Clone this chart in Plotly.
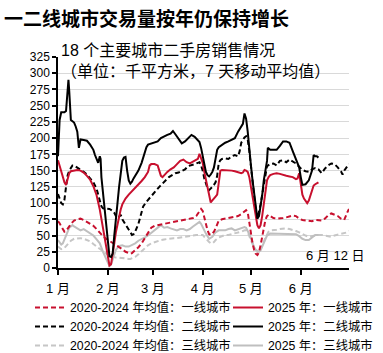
import pandas as pd
import plotly.graph_objects as go

# ---------------- data (day offset from 2025-01-01, value in 千平方米) ----------------
tier1_avg_days = [0,1,2,3,4,5,6,7,8,9,10,12,14,16,18,20,22,24,26,28,30,32,34,36,38,40,42,44,45,46,
                  48,50,52,54,56,58,60,62,64,66,68,70,72,74,76,78,80,82,84,86,88,
                  89,90,91,92,93,94,95,96,97,98,99,100,102,104,106,108,110,112,114,116,
                  117,118,119,120,121,122,123,124,125,126,127,128,129,130,131,132,
                  134,136,138,140,142,144,146,148,150,152,154,156,158,160,162,164,166,168,170,172,174,176,178,180,181]
tier1_avg_vals = [72,69,64,60,56,57,60,64,68,71,73,75,76,74,71,68,65,60,54,49,45,42,39,36,33,29,25,23,22,23,
                  27,32,38,46,55,62,65,66,67,69,70,71,72,73,74,75,76,76,77,80,87,
                  91,88,78,67,58,52,51,53,56,61,68,73,75,76,76,77,78,80,83,87,
                  89,86,70,52,38,28,22,20,24,35,50,65,74,80,82,80,
                  77,76,76,77,78,79,81,80,76,74,73,72,72,74,74,73,76,81,84,82,80,76,74,86,91]

tier2_avg_days = [0,1,2,3,4,5,6,7,8,9,10,12,14,16,18,20,22,24,25,26,27,28,30,32,34,35,36,37,38,39,40,42,44,
                  45,46,47,48,50,52,53,55,57,59,61,63,65,67,69,71,73,75,77,79,81,83,85,87,
                  88,89,90,91,92,93,94,95,96,97,98,99,100,101,102,104,106,108,110,112,113,114,115,116,
                  117,118,119,120,121,122,123,124,125,126,127,128,129,130,132,134,
                  136,138,140,142,144,146,148,150,152,154,156,158,160,162,164,166,168,170,172,174,176,177,178,180,181]
tier2_avg_vals = [114,106,100,98,105,125,143,150,155,158,158,155,152,148,144,138,132,122,112,102,95,92,91,91,88,85,80,77,79,82,75,67,58,
                  53,51,52,56,68,85,95,102,108,114,120,125,130,135,140,143,146,147,149,152,157,158,160,162,
                  163,158,150,138,130,123,120,122,125,128,132,142,162,166,168,169,168,172,174,172,180,193,198,201,
                  203,198,180,158,130,105,88,78,86,98,112,128,145,157,160,161,
                  158,165,166,163,167,164,161,156,151,149,148,152,154,152,146,153,158,161,160,155,149,144,150,157,160]

tier3_avg_days = [0,2,4,6,8,10,12,14,16,18,20,22,24,26,28,30,32,34,36,38,40,42,44,45,46,
                  48,50,52,54,56,58,60,62,64,66,68,70,72,74,76,78,80,82,84,86,88,90,
                  91,92,93,94,95,96,97,98,100,102,104,106,108,110,112,114,116,
                  117,118,119,120,121,122,123,124,125,126,127,128,129,130,131,
                  132,134,136,138,140,142,144,146,148,150,152,154,156,158,160,162,164,166,168,170,172,174,176,178,180,181]
tier3_avg_vals = [33,29,31,36,42,45,46,46,45,43,41,37,33,29,25,22,19,17,16,16,15,14,14,14,15,
                  17,21,26,31,35,38,40,41,43,44,45,45,46,46,47,48,49,50,51,51,51,51,
                  48,45,42,40,38,38,40,43,47,49,51,51,52,53,55,56,58,
                  58,55,50,43,37,31,27,25,26,29,34,40,47,53,56,
                  58,58,59,60,61,61,60,59,57,55,52,50,48,49,51,51,51,50,49,48,50,51,52,53,55,57]

tier1_2025_days = [0,1,2,3,4,5,6,7,8,10,12,14,16,18,20,22,24,26,27,28,29,30,31,32,33,34,35,36,37,38,39,40,
                   42,44,46,48,50,52,54,56,57,58,60,62,63,64,65,66,68,70,72,74,76,78,80,82,84,86,
                   87,88,89,90,91,92,93,94,95,96,97,98,99,100,101,102,
                   104,106,108,110,112,114,115,116,117,118,119,120,121,122,123,124,125,126,127,128,129,130,131,132,
                   134,136,138,140,142,144,146,148,149,150,151,152,153,154,155,156,157,158,159,160,161,162]
tier1_2025_vals = [166,158,150,143,132,128,136,146,149,150,151,150,147,142,136,126,112,90,76,62,47,30,15,4,6,20,38,55,68,80,90,98,
                   107,113,118,124,129,134,140,148,158,160,160,158,150,142,140,143,148,152,155,160,165,167,163,161,164,166,
                   168,176,170,162,148,135,122,110,101,104,108,110,113,135,150,151,
                   151,150,150,149,148,146,147,151,150,148,140,125,108,92,78,66,61,66,80,100,118,135,140,143,
                   145,146,145,143,142,141,140,137,138,146,130,113,107,103,100,104,112,122,127,129,131,132]

tier2_2025_days = [0,1,2,3,4,5,6,6.5,7,7.5,8,9,10,11,12,13,13.5,14,16,18,20,21,22,23,24,25,26,26.5,27,28,
                   29,30,31,32,33,34,35,36,37,38,39,40,41,42,43,44,45,46,47,48,50,52,54,55,56,58,60,62,64,66,
                   68,70,71.5,73,75,77,79,81,83,85,87,88,89,90,91,92,93,94,95,96,
                   97,98,99,100,102,104,106,108,110,112,114,115,116,117,118,119,120,121,122,123,
                   124,125,126,127,128,129,130,130.5,132,134,136,138,140,142,144,146,148,150,151,152,
                   154,156,158,159,160,161,162]
tier2_2025_vals = [172,228,240,240,240,242,275,290,272,250,228,226,224,218,210,185,190,198,197,196,190,186,182,174,168,162,172,168,140,115,
                   88,62,38,18,17,22,50,80,100,125,148,165,170,171,150,135,130,133,138,142,150,162,178,186,190,192,193,195,200,203,
                   205,207,211,206,198,192,195,200,205,202,196,194,185,172,160,148,143,141,144,148,
                   155,168,182,186,190,193,195,198,200,210,218,222,238,230,210,180,158,135,112,90,
                   76,80,95,112,135,150,165,185,182,182,182,188,195,195,193,180,168,155,140,128,
                   129,135,150,174,172,172,170]

tier3_2025_days = [0,1,2,3,4,5,6,7,8,9,10,12,14,16,18,20,22,24,26,28,30,31,32,33,34,35,36,37,38,
                   40,42,44,46,48,50,52,54,56,58,60,62,64,66,68,70,72,74,76,78,80,82,84,86,88,89,90,
                   92,94,95,96,98,100,102,104,106,108,110,112,114,116,
                   117,118,119,120,121,122,123,124,125,126,127,128,129,130,
                   132,134,136,138,140,142,144,146,148,150,152,154,156,158,160,162]
tier3_2025_vals = [43,39,36,38,44,52,58,62,64,66,64,61,58,60,57,53,50,44,38,25,14,8,3,5,14,22,28,31,34,
                   35,33,33,35,38,42,44,47,50,54,57,62,66,62,63,61,59,58,60,60,58,60,64,68,71,68,62,
                   53,45,46,48,55,58,58,58,60,61,58,60,61,63,
                   62,58,52,46,38,32,28,26,25,27,33,40,45,50,
                   53,53,53,53,53,53,53,53,52,49,45,43,43,47,51,51]

month_ticks = ["2025-01-01", "2025-02-01", "2025-03-01", "2025-04-01", "2025-05-01", "2025-06-01"]
month_labels = ["1 月", "2 月", "3 月", "4 月", "5 月", "6 月"]
y_ticks = [0, 25, 50, 75, 100, 125, 150, 175, 200, 225, 250, 275, 300, 325]

# ---------------- build ----------------
BASE = pd.Timestamp("2025-01-01")


def to_dates(days):
    return [BASE + pd.Timedelta(days=d) for d in days]


RED = "#C8102E"
BLACK = "#000000"
GRAY = "#BFBFBF"
GRAY_D = "#C6C6C6"
FONT = "Liberation Sans, Arial, Noto Sans CJK SC, sans-serif"

series = [
    # name, days, vals, colour, dash, legend, rank
    ("2020-2024 年均值：三线城市", tier3_avg_days, tier3_avg_vals, GRAY_D, "5px,3px", "legend", 3),
    ("2025 年：三线城市", tier3_2025_days, tier3_2025_vals, GRAY, "solid", "legend2", 3),
    ("2020-2024 年均值：一线城市", tier1_avg_days, tier1_avg_vals, RED, "5px,3px", "legend", 1),
    ("2020-2024 年均值：二线城市", tier2_avg_days, tier2_avg_vals, BLACK, "5px,3px", "legend", 2),
    ("2025 年：一线城市", tier1_2025_days, tier1_2025_vals, RED, "solid", "legend2", 1),
    ("2025 年：二线城市", tier2_2025_days, tier2_2025_vals, BLACK, "solid", "legend2", 2),
]

fig = go.Figure()
for name, d, v, col, dash, lg, rank in series:
    assert len(d) == len(v), (name, len(d), len(v))
    fig.add_trace(go.Scatter(
        x=to_dates(d), y=v, mode="lines", name=name,
        line=dict(color=col, width=2, dash=dash),
        legend=lg, legendrank=rank, hoverinfo="skip",
    ))

W, H = 383, 353
ML, MR, MT, MB = 58, 34, 57, 85
PW, PH = W - ML - MR, H - MT - MB


def px_x(x):
    return (x - ML) / PW


def px_y(y):
    return (H - MB - y) / PH


LEG_TOP = 293

fig.update_layout(
    width=W, height=H,
    margin=dict(l=ML, r=MR, t=MT, b=MB, autoexpand=False),
    paper_bgcolor="white", plot_bgcolor="white",
    font=dict(family=FONT, size=12, color="black"),
    title=dict(text="一二线城市交易量按年仍保持增长", xref="container", yref="container",
               x=4 / W, xanchor="left", y=1 - 19 / H, yanchor="middle",
               font=dict(size=19, weight="bold", color="black",
                         family="Noto Sans CJK SC, sans-serif")),
    showlegend=True,
    legend=dict(x=px_x(30), y=px_y(LEG_TOP), xanchor="left", yanchor="top",
                bgcolor="rgba(0,0,0,0)", font=dict(size=12.3), itemwidth=30,
                tracegroupgap=0),
    legend2=dict(x=px_x(228), y=px_y(LEG_TOP), xanchor="left", yanchor="top",
                 bgcolor="rgba(0,0,0,0)", font=dict(size=12.3), itemwidth=30,
                 tracegroupgap=0),
    xaxis=dict(type="date", range=["2025-01-01", "2025-07-01"],
               tickvals=month_ticks, ticktext=month_labels,
               ticks="outside", ticklen=5, tickcolor="black", tickwidth=1.5,
               ticklabelstandoff=3,
               showline=True, linecolor="black", linewidth=1.5,
               showgrid=False, zeroline=False, tickfont=dict(size=13)),
    yaxis=dict(range=[0, 325], tickvals=y_ticks,
               ticks="outside", ticklen=4, tickcolor="black", tickwidth=1.5,
               showline=True, linecolor="black", linewidth=1.5,
               showgrid=True, gridcolor="#D9D9D9", gridwidth=1,
               zeroline=False, tickfont=dict(size=12)),
    annotations=[
        dict(text="18 个主要城市二手房销售情况<br>（单位：千平方米，7 天移动平均值）",
             xref="paper", yref="paper", align="left",
             x=px_x(59), y=px_y(61), xanchor="left", yanchor="middle",
             showarrow=False, font=dict(size=16)),
        dict(text="6 月 12 日", xref="paper", yref="paper",
             x=px_x(367), y=px_y(255), xanchor="right", yanchor="middle",
             showarrow=False, font=dict(size=13)),
    ],
)

fig.write_html("out.html")
